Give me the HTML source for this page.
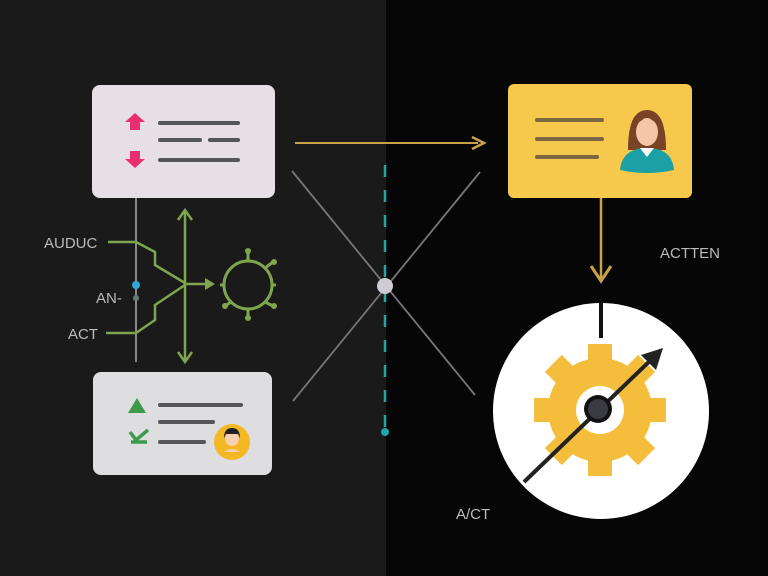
<!DOCTYPE html>
<html><head><meta charset="utf-8"><style>
html,body{margin:0;padding:0;width:768px;height:576px;overflow:hidden;background:#060606}
svg{display:block}
text{font-family:"Liberation Sans",sans-serif}
</style></head><body>
<svg width="768" height="576" viewBox="0 0 768 576">
<rect x="0" y="0" width="386" height="576" fill="#1a1a1a"/>
<rect x="386" y="0" width="382" height="576" fill="#060606"/>

<!-- top-left box -->
<rect x="92" y="85" width="183" height="113" rx="8" fill="#e6dfe5"/>
<path d="M135 113 l-10 9 h5 v8 h10 v-8 h5 z" fill="#e8306e"/>
<path d="M130 151 v8 h-5 l10 9 l10 -9 h-5 v-8 z" fill="#e8306e"/>
<g stroke="#55555a" stroke-width="4" stroke-linecap="round">
<line x1="160" y1="123" x2="238" y2="123"/>
<line x1="160" y1="140" x2="200" y2="140"/>
<line x1="210" y1="140" x2="238" y2="140"/>
<line x1="160" y1="160" x2="238" y2="160"/>
</g>

<!-- left connectors -->
<line x1="136" y1="198" x2="136" y2="362" stroke="#888" stroke-width="2"/>
<g stroke="#7fa64e" stroke-width="2.5" fill="none">
<polyline points="108,242 136,242 155,252 155,265 185,283"/>
<polyline points="106,333 136,333 155,320 155,305 185,285"/>
<line x1="185" y1="210" x2="185" y2="362"/>
<path d="M178 220 l7 -10 l7 10"/>
<path d="M178 352 l7 10 l7 -10"/>
<line x1="185" y1="284" x2="210" y2="284"/>
</g>
<path d="M205 278 l10 6 l-10 6 z" fill="#7fa64e"/>
<g stroke="#7fa64e" stroke-width="3" fill="none">
<circle cx="248" cy="285" r="24"/>
<line x1="220" y1="285" x2="224" y2="285"/>
<line x1="248" y1="261" x2="248" y2="252"/>
<line x1="248" y1="309" x2="248" y2="318"/>
<line x1="265" y1="268" x2="273" y2="262"/>
<line x1="265" y1="302" x2="273" y2="306"/>
<line x1="231" y1="302" x2="225" y2="306"/>
<line x1="272" y1="285" x2="276" y2="285"/>
</g>
<g fill="#7fa64e"><circle cx="248" cy="251" r="3"/><circle cx="248" cy="318" r="3"/><circle cx="274" cy="262" r="3"/><circle cx="274" cy="306" r="3"/><circle cx="225" cy="306" r="3"/></g>
<circle cx="136" cy="285" r="4" fill="#2fa8d8"/>
<circle cx="136" cy="298" r="3" fill="#6a7a70"/>
<text x="44" y="248" font-size="15" fill="#bbb">AUDUC</text>
<text x="96" y="303" font-size="15" fill="#bbb">AN-</text>
<text x="68" y="339" font-size="15" fill="#bbb">ACT</text>

<!-- bottom box -->
<rect x="93" y="372" width="179" height="103" rx="8" fill="#dedde0"/>
<path d="M137 398 l-9 15 h18 z" fill="#3e9a4a"/>
<path d="M130 432 l6 8 l12 -10 M131 442 h16" stroke="#3e9a4a" stroke-width="3.5" fill="none"/>
<g stroke="#55555a" stroke-width="4" stroke-linecap="round">
<line x1="160" y1="405" x2="241" y2="405"/>
<line x1="160" y1="422" x2="213" y2="422"/>
<line x1="160" y1="442" x2="204" y2="442"/>
</g>
<circle cx="232" cy="442" r="18" fill="#f4b824"/>
<circle cx="232" cy="439" r="7" fill="#f6d0b0"/>
<path d="M224 438 q0 -10 8 -10 q8 0 8 10 l-2 -4 h-12 z" fill="#222"/>
<path d="M224 452 q8 -6 16 0" fill="#f6d0b0"/>

<!-- center -->
<line x1="295" y1="143" x2="478" y2="143" stroke="#c9a24a" stroke-width="2"/>
<path d="M472 137 l12 6 l-12 6" stroke="#c9a24a" stroke-width="2.5" fill="none"/>
<line x1="292" y1="171" x2="475" y2="395" stroke="#777" stroke-width="1.8"/>
<line x1="480" y1="172" x2="293" y2="401" stroke="#777" stroke-width="1.8"/>
<line x1="385" y1="165" x2="385" y2="432" stroke="#1fa6a8" stroke-width="2.5" stroke-dasharray="12 13"/>
<circle cx="385" cy="432" r="4" fill="#1fa6a8"/>
<circle cx="385" cy="286" r="8" fill="#cfcbd4"/>

<!-- yellow box -->
<rect x="508" y="84" width="184" height="114" rx="6" fill="#f6c84b"/>
<g stroke="#7a6640" stroke-width="4" stroke-linecap="round">
<line x1="537" y1="120" x2="602" y2="120"/>
<line x1="537" y1="139" x2="602" y2="139"/>
<line x1="537" y1="157" x2="597" y2="157"/>
</g>
<path d="M628 150 q0 -40 19 -40 q19 0 19 40 z" fill="#7a4226"/>
<ellipse cx="647" cy="132" rx="11" ry="14" fill="#f5c7a8"/>
<path d="M631 126 q2 -14 16 -14 q14 0 16 14 q-10 -4 -16 -10 q-6 6 -16 10z" fill="#7a4226"/>
<path d="M620 170 q2 -22 27 -22 q25 0 27 22 q-27 6 -54 0z" fill="#1ba0a6"/>
<path d="M640 148 l7 9 l7 -9 z" fill="#fff"/>
<line x1="601" y1="198" x2="601" y2="280" stroke="#c9a24a" stroke-width="2.5"/>
<path d="M591 266 l10 15 l10 -15" stroke="#c9a24a" stroke-width="3" fill="none"/>
<text x="660" y="258" font-size="15" fill="#bbb">ACTTEN</text>

<!-- circle gear -->
<circle cx="601" cy="411" r="108" fill="#fff"/>
<line x1="601" y1="303" x2="601" y2="338" stroke="#111" stroke-width="4"/>
<g transform="translate(600,410)" fill="#f4be3c">
<circle r="52"/>
<g id="t"><rect x="-12" y="-66" width="24" height="22"/></g>
<use href="#t" transform="rotate(45)"/><use href="#t" transform="rotate(90)"/><use href="#t" transform="rotate(135)"/>
<use href="#t" transform="rotate(180)"/><use href="#t" transform="rotate(225)"/><use href="#t" transform="rotate(270)"/><use href="#t" transform="rotate(315)"/>
<circle r="24" fill="#fff"/>
</g>
<line x1="524" y1="482" x2="655" y2="356" stroke="#222" stroke-width="4"/>
<path d="M663 348 l-22 7 l15 15 z" fill="#222"/>
<circle cx="598" cy="409" r="14" fill="#111"/>
<circle cx="598" cy="409" r="10" fill="#3a3a42"/>
<text x="456" y="519" font-size="15" fill="#bbb">A/CT</text>
</svg>
</body></html>
